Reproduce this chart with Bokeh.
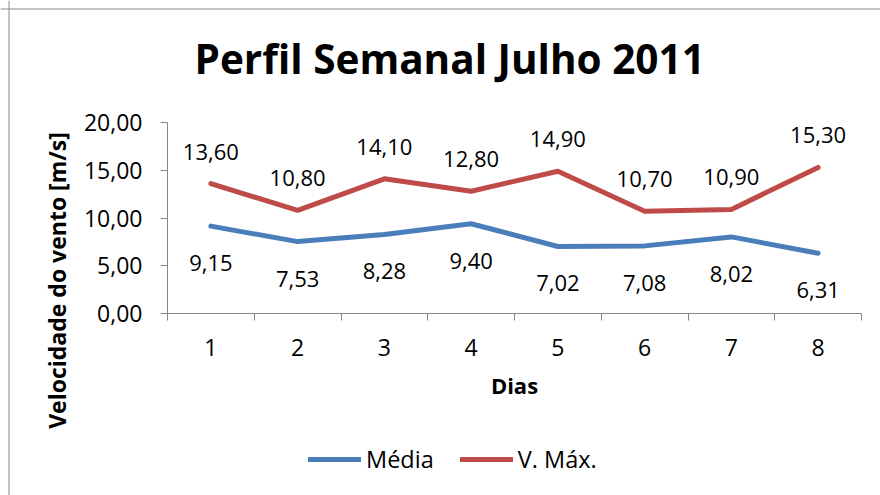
import math
from bokeh.plotting import figure
from bokeh.models import (ColumnDataSource, FixedTicker, LabelSet, Label, Legend,
                          LegendItem, Range1d, Span)
from bokeh.core.properties import value
from bokeh.embed import file_html
from bokeh.resources import INLINE

# ---- data ----
dias = [1, 2, 3, 4, 5, 6, 7, 8]
media = [9.15, 7.53, 8.28, 9.40, 7.02, 7.08, 8.02, 6.31]
vmax = [13.60, 10.80, 14.10, 12.80, 14.90, 10.70, 10.90, 15.30]
y_ticks = [0, 5, 10, 15, 20]
y_tick_labels = ["0,00", "5,00", "10,00", "15,00", "20,00"]
title_text = "Perfil Semanal Julho 2011"
x_title = "Dias"
y_title = "Velocidade do vento [m/s]"
series_names = ["Média", "V. Máx."]

def fmt(v):
    return f"{v:.2f}".replace(".", ",")

src = ColumnDataSource(dict(
    x=dias, media=media, vmax=vmax,
    media_lbl=[fmt(v) for v in media],
    vmax_lbl=[fmt(v) for v in vmax],
))

BLUE = "#4A7EBB"
RED = "#BE4B48"
GRAY = "#868686"
FONT = "Open Sans"

# ---- layout (canvas pixels, canvas = page) ----
W, H = 880, 495
AX_L, AX_R, AX_T, AX_B = 167, 861, 122, 313
BORDER = 8.5
x0, x1 = 0.5, 8.5
y0, y1 = 0, 20
pxx = (AX_R - AX_L) / (x1 - x0)
pxy = (AX_B - AX_T) / (y1 - y0)
xr = Range1d(x0 - AX_L / pxx, x1 + (W - AX_R) / pxx)
yr = Range1d(y0 - (H - AX_B) / pxy, y1 + AX_T / pxy)

p = figure(width=W, height=H, output_backend="svg", toolbar_location=None,
           x_range=xr, y_range=yr, title=None,
           min_border_left=0, min_border_right=0, min_border_top=0,
           min_border_bottom=0)
p.outline_line_color = None
p.xgrid.visible = False
p.ygrid.visible = False

# chart-area border (left and top edges)
p.add_layout(Span(location=xr.start + BORDER / pxx, dimension="height",
                  line_color="#8a8a8a", line_width=1))
p.add_layout(Span(location=yr.end - BORDER / pxy, dimension="width",
                  line_color="#8a8a8a", line_width=1))

# axes drawn at fixed positions inside the canvas
xa = p.xaxis[0]
ya = p.yaxis[0]
xa.fixed_location = y0
ya.fixed_location = x0
xa.bounds = (x0, x1)
ya.bounds = (y0, y1)

ya.ticker = FixedTicker(ticks=y_ticks)
ya.major_label_overrides = {t: l for t, l in zip(y_ticks, y_tick_labels)}
ya.major_tick_out = 7
ya.major_tick_in = 0
ya.major_label_standoff = 18
ya.minor_tick_line_color = None

xa.ticker = FixedTicker(ticks=dias, minor_ticks=[d - 0.5 for d in dias] + [dias[-1] + 0.5])
xa.major_tick_out = 0
xa.major_tick_in = 0
xa.minor_tick_out = 7
xa.minor_tick_in = 0
xa.minor_tick_line_color = GRAY
xa.major_label_standoff = 18
xa.axis_label = x_title
xa.axis_label_standoff = 11
xa.axis_label_text_font = FONT
xa.axis_label_text_font_size = "22px"
xa.axis_label_text_font_style = "bold"
xa.axis_label_text_color = "black"

for ax in (xa, ya):
    ax.axis_line_color = GRAY
    ax.major_tick_line_color = GRAY
    ax.major_label_text_font = FONT
    ax.major_label_text_font_size = "23px"
    ax.major_label_text_color = "black"

# title and y axis title
p.add_layout(Label(x=194, y=H - 58, x_units="screen", y_units="screen",
                   text=title_text, text_align="left", text_baseline="middle",
                   text_font=FONT, text_font_size="40.5px", text_font_style="bold",
                   text_color="black"))
p.add_layout(Label(x=56, y=H - 280, x_units="screen", y_units="screen",
                   text=y_title, angle=math.pi / 2, text_align="center",
                   text_baseline="middle", text_font=FONT, text_font_size="23px",
                   text_font_style="bold", text_color="black"))

# lines
r1 = p.line("x", "media", source=src, line_color=BLUE, line_width=5,
            line_join="round", line_cap="round")
r2 = p.line("x", "vmax", source=src, line_color=RED, line_width=5,
            line_join="round", line_cap="round")

# data labels
p.add_layout(LabelSet(x="x", y="vmax", text="vmax_lbl", source=src, y_offset=32,
                      text_align="center", text_baseline="middle",
                      text_font=value(FONT), text_font_size=value("22px"),
                      text_color="black"))
p.add_layout(LabelSet(x="x", y="media", text="media_lbl", source=src, y_offset=-37,
                      text_align="center", text_baseline="middle",
                      text_font=value(FONT), text_font_size=value("22px"),
                      text_color="black"))

legend = Legend(items=[LegendItem(label=series_names[0], renderers=[r1]),
                       LegendItem(label=series_names[1], renderers=[r2])],
                orientation="horizontal", location=(308, H - 475),
                glyph_width=53, glyph_height=30, label_height=30,
                label_standoff=5, spacing=26, padding=0, margin=0,
                border_line_color=None, background_fill_alpha=0,
                label_text_font=FONT, label_text_font_size="23.5px",
                label_text_color="black")
p.add_layout(legend, "center")

open("out.html", "w").write(file_html(p, INLINE))
